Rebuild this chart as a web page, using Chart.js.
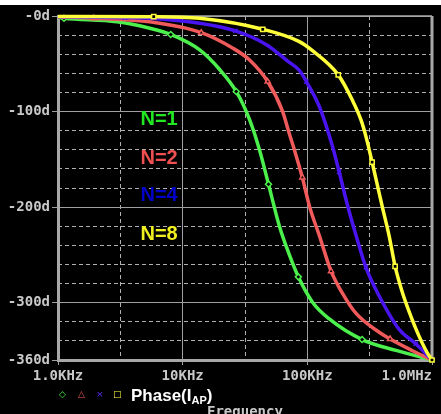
<!DOCTYPE html>
<html>
<head>
<title>Phase(I_AP)</title>
<script src="https://cdn.jsdelivr.net/npm/chart.js@4.4.0/dist/chart.umd.min.js"></script>
<style>
  body { margin: 0; background: #000; }
  #wrap { position: relative; width: 441px; height: 414px; overflow: hidden; background: #000; }
  #topstrip { position: absolute; left: 0; top: 0; width: 441px; height: 5px; background: #fff; }
  .mk { position: absolute; top: 387px; font: 9px "DejaVu Sans", sans-serif; line-height: 14px; }
  #trace { position: absolute; left: 131px; top: 386px; color: #fff; font: bold 17px "Liberation Sans", Arial, sans-serif; line-height: 20px; }
  #trace sub { font-size: 11px; vertical-align: -3px; line-height: 0; }
  #xtitle { position: absolute; left: 207px; top: 404px; color: #c8c8c8; font: bold 14px "DejaVu Sans Mono", monospace; line-height: 14px; }
</style>
</head>
<body>
<div id="wrap">
  <canvas id="phaseChart"></canvas>
  <div id="topstrip"></div>
  <span class="mk" style="left:59px;color:#4cf04c">&#9671;</span>
  <span class="mk" style="left:78px;color:#f05a5a">&#9651;</span>
  <span class="mk" style="left:96px;color:#5a30ff">&#215;</span>
  <span class="mk" style="left:113px;color:#ffff3a">&#9633;</span>
  <div id="trace">Phase(I<sub>AP</sub>)</div>
  <div id="xtitle">Frequency</div>
</div>

<script>
    // axis ticks
    var xTicks = [1000, 10000, 100000, 1000000];
    var xLabels = ['1.0KHz', '10KHz', '100KHz', '1.0MHz'];
    var xMinor = [3162, 31623, 316228];
    var yTicks = [0, -100, -200, -300, -360];
    var yLabels = ['-0d', '-100d', '-200d', '-300d', '-360d'];
    var yMinor = [-20, -40, -60, -80, -120, -140, -160, -180, -220, -240, -260, -280, -320, -340];

    // N=1 (green)
    var freqN1 = [1000, 1117, 2970, 5450, 8020, 13700, 19800, 26900, 34400, 41300, 48800, 59700, 71800, 84700, 110000, 150000, 275000, 515000, 1000000];
    var phaseN1 = [-1.5, -2.4, -6, -12.8, -19.3, -35.5, -56, -79, -108.5, -140, -176, -220, -250, -273, -299.5, -317, -338.6, -350, -360];
    var marksN1 = [1, 4, 7, 10, 13, 16];

    // N=2 (red)
    var freqN2 = [1000, 1940, 5450, 14100, 25300, 34400, 48100, 63400, 70500, 78700, 91200, 104000, 125000, 155000, 191000, 245000, 377000, 461000, 692000, 1000000];
    var phaseN2 = [-1, -2.4, -6, -17.4, -33.7, -46, -68.6, -100, -120, -140, -169, -199, -230, -267, -290, -311, -331, -338, -350, -360];
    var marksN2 = [1, 3, 6, 10, 13, 17];

    // N=4 (blue)
    var freqN4 = [1000, 3440, 5450, 13700, 26500, 47000, 69200, 86300, 98200, 125000, 158000, 180000, 209000, 245000, 295000, 377000, 545000, 741000, 1000000];
    var phaseN4 = [-0.8, -1.8, -2.4, -7.6, -15.6, -30, -47, -57, -68.6, -95, -135, -163, -197, -229, -263, -293, -328, -343, -360];
    var marksN4 = [1, 4, 8, 11, 14, 17];

    // N=8 (yellow)
    var freqN8 = [1000, 5860, 13700, 43900, 86300, 108000, 177000, 229000, 269000, 295000, 331000, 356000, 400000, 453000, 506000, 578000, 676000, 787000, 912000, 1000000];
    var phaseN8 = [-0.5, -0.7, -2.4, -13.9, -26.8, -35.5, -61.6, -87.7, -108.5, -126, -153, -171, -200, -230, -262, -289, -314, -335, -352, -360];
    var marksN8 = [1, 3, 6, 10, 14, 19];

    var seriesNames = ['N=1', 'N=2', 'N=4', 'N=8'];

    var tickFont = { family: '"DejaVu Sans Mono", monospace', size: 14, weight: 'bold' };
    var tickColor = '#c8c8c8';
    var gridColor = '#a0a0a0';

    function makeSet(freqs, phases, marks, color, style, order) {
        return {
            data: freqs.map(function (f, i) { return { x: f, y: phases[i] }; }),
            borderColor: color,
            borderWidth: 3.5,
            cubicInterpolationMode: 'monotone',
            pointStyle: style,
            pointRadius: function (c) { return marks.indexOf(c.dataIndex) >= 0 ? 3 : 0; },
            pointBorderColor: color,
            pointBackgroundColor: '#000',
            pointBorderWidth: 1.5,
            clip: 4,
            order: order
        };
    }

    function noPad(s) {
        s.paddingLeft = 0; s.paddingRight = 0; s.paddingTop = 0; s.paddingBottom = 0;
    }

    var framePlugin = {
        id: 'frame',
        beforeDatasetsDraw: function (chart) {
            var a = chart.chartArea, c = chart.ctx;
            c.save();
            c.strokeStyle = '#a8a8a8';
            c.lineWidth = 1.5;
            c.beginPath(); c.moveTo(a.left, a.top); c.lineTo(a.right, a.top); c.stroke();
            c.lineWidth = 3;
            c.beginPath(); c.moveTo(a.right, a.top); c.lineTo(a.right, a.bottom); c.stroke();
            c.restore();
        },
        afterDatasetsDraw: function (chart) {
            // N= annotations, right aligned
            var c = chart.ctx, xs = chart.scales.x, ys = chart.scales.y;
            var labelColors = ['#22e822', '#f05050', '#0000c8', '#f0f020'];
            var labelY = [-108.5, -149, -188, -228.5];
            c.save();
            c.font = 'bold 20px "Liberation Sans", Arial, sans-serif';
            c.textAlign = 'right';
            c.textBaseline = 'middle';
            for (var i = 0; i < seriesNames.length; i++) {
                c.fillStyle = labelColors[i];
                c.fillText(seriesNames[i], xs.getPixelForValue(9120), ys.getPixelForValue(labelY[i]));
            }
            c.restore();
        }
    };

    var ctx = document.getElementById('phaseChart').getContext('2d');
    var chart = new Chart(ctx, {
        type: 'line',
        data: {
            datasets: [
                makeSet(freqN1, phaseN1, marksN1, '#4cf04c', 'rectRot', 3),
                makeSet(freqN2, phaseN2, marksN2, '#f05a5a', 'triangle', 2),
                makeSet(freqN4, phaseN4, marksN4, '#4a14f0', 'crossRot', 1),
                makeSet(freqN8, phaseN8, marksN8, '#ffff3a', 'rect', 0)
            ]
        },
        options: {
            responsive: true,
            maintainAspectRatio: false,
            animation: false,
            layout: { autoPadding: false, padding: { top: 16, right: 9, left: 0, bottom: 0 } },
            plugins: { legend: { display: false }, tooltip: { enabled: false } },
            scales: {
                x: {
                    type: 'logarithmic', min: 1000, max: 1000000, position: 'bottom',
                    afterBuildTicks: function (s) { s.ticks = xTicks.map(function (v) { return { value: v }; }); },
                    afterFit: function (s) { s.height = 54; noPad(s); },
                    ticks: {
                        autoSkip: false, maxRotation: 0, minRotation: 0,
                        color: tickColor, font: tickFont, padding: 3,
                        callback: function (v, i) {
                            return i === xTicks.length - 1 ? xLabels[i] + '      ' : xLabels[i];
                        }
                    },
                    grid: { color: gridColor, lineWidth: 1, tickLength: 5, tickColor: gridColor },
                    border: { color: '#a8a8a8', width: 3 }
                },
                x2: {
                    type: 'logarithmic', min: 1000, max: 1000000, position: 'bottom',
                    afterBuildTicks: function (s) { s.ticks = xMinor.map(function (v) { return { value: v }; }); },
                    afterFit: function (s) { s.height = 0; noPad(s); },
                    ticks: { display: false },
                    grid: { color: '#b0b0b0', lineWidth: 1, drawTicks: false },
                    border: { display: false, dash: [4, 3] }
                },
                y: {
                    type: 'linear', min: -360, max: 0, position: 'left',
                    afterBuildTicks: function (s) { s.ticks = yTicks.map(function (v) { return { value: v }; }); },
                    afterFit: function (s) { s.width = 58; noPad(s); },
                    ticks: {
                        color: tickColor, font: tickFont, padding: 2,
                        callback: function (v, i) { return yLabels[i]; }
                    },
                    grid: { color: gridColor, lineWidth: 1, tickLength: 6, tickColor: gridColor },
                    border: { color: '#a8a8a8', width: 3 }
                },
                y2: {
                    type: 'linear', min: -360, max: 0, position: 'left',
                    afterBuildTicks: function (s) { s.ticks = yMinor.map(function (v) { return { value: v }; }); },
                    afterFit: function (s) { s.width = 0; noPad(s); },
                    ticks: { display: false },
                    grid: { color: '#b0b0b0', lineWidth: 1, drawTicks: false },
                    border: { display: false, dash: [4, 3] }
                }
            }
        },
        plugins: [framePlugin]
    });
</script>
</body>
</html>
